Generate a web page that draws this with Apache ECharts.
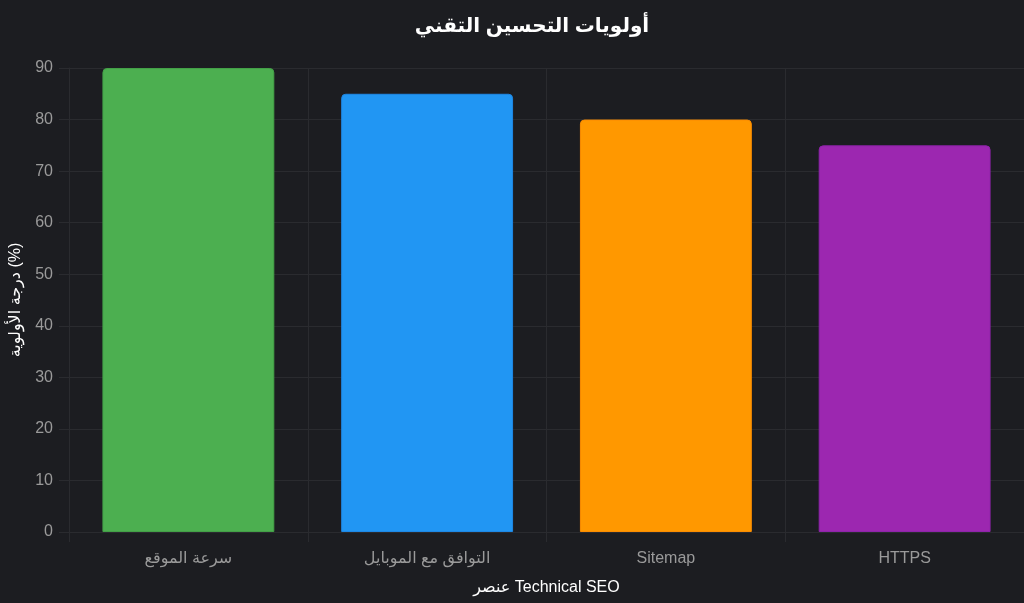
<!DOCTYPE html>
<html><head><meta charset="utf-8">
<script src="https://cdn.jsdelivr.net/npm/echarts@6/dist/echarts.min.js"></script>
<style>html,body{margin:0;padding:0;background:#1c1d21;}#c{width:1024px;height:603px;}</style>
</head><body><div id="c"></div>
<script>
const categories = ['سرعة الموقع', 'التوافق مع الموبايل', 'Sitemap', 'HTTPS'];
const values = [90, 85, 80, 75];
const fillColors = ['#4CAF50', '#2196F3', '#FF9800', '#9C27B0'];
const borderColors = ['#43A047', '#1E88E5', '#FB8C00', '#8E24AA'];
const yMin = 0, yMax = 90, yStep = 10;

const FONT = '"Liberation Sans", "DejaVu Sans", sans-serif';
const chart = echarts.init(document.getElementById('c'), null, {renderer: 'canvas'});
chart.setOption({
  backgroundColor: '#1c1d21',
  animation: false,
  title: {
    text: 'أولويات التحسين التقني',
    left: 527, top: 11, textAlign: 'center',
    textStyle: {color: '#ffffff', fontSize: 20, fontWeight: 'bold', fontFamily: FONT}
  },
  grid: {left: 69, right: 0, top: 68, bottom: 71, containLabel: false},
  xAxis: {
    type: 'category',
    data: categories,
    name: 'عنصر Technical SEO',
    nameLocation: 'middle',
    nameGap: 48,
    nameTextStyle: {color: '#ffffff', fontSize: 16, fontFamily: FONT},
    axisLine: {show: true, lineStyle: {color: '#2a2b2f', width: 1}},
    axisTick: {show: true, length: 10, lineStyle: {color: '#2a2b2f'}},
    splitLine: {show: true, lineStyle: {color: '#2a2b2f', width: 1}},
    axisLabel: {color: '#9a9a9a', fontSize: 16, margin: 19, fontFamily: FONT}
  },
  yAxis: {
    type: 'value',
    min: yMin, max: yMax, interval: yStep,
    name: 'درجة الأولوية (%)',
    nameLocation: 'middle',
    nameGap: 45,
    nameRotate: 90,
    nameTextStyle: {color: '#ffffff', fontSize: 16, fontFamily: FONT},
    axisLine: {show: true, lineStyle: {color: '#2a2b2f', width: 1}},
    axisTick: {show: true, length: 10, lineStyle: {color: '#2a2b2f'}},
    splitLine: {show: true, lineStyle: {color: '#2a2b2f', width: 1}},
    axisLabel: {color: '#9a9a9a', fontSize: 16, margin: 16, fontFamily: FONT}
  },
  series: [{
    type: 'bar',
    barWidth: '72%',
    data: values.map((v, i) => ({
      value: v,
      itemStyle: {color: fillColors[i], borderColor: borderColors[i], borderWidth: 1, borderRadius: [4, 4, 0, 0]}
    }))
  }]
});
</script></body></html>
